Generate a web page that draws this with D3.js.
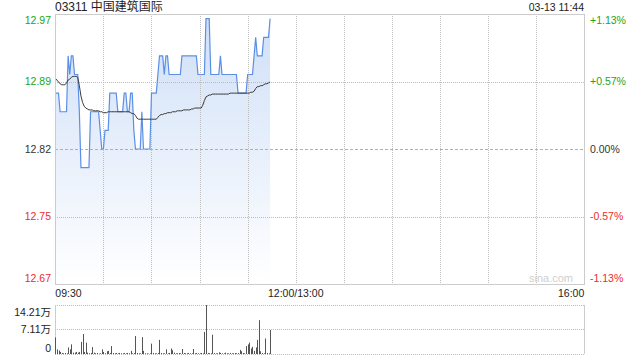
<!DOCTYPE html>
<html>
<head>
<meta charset="utf-8">
<script src="https://cdn.jsdelivr.net/npm/d3@7/dist/d3.min.js"></script>
<style>
  html, body { margin: 0; padding: 0; background: #fff; }
  svg { display: block; font-family: "Liberation Sans", Arial, "Noto Sans CJK SC", sans-serif; }
</style>
</head>
<body>
<svg id="chart" width="640" height="360"></svg>
<script>
// --- data (one value per minute from 09:30) ---
const title = '03311 中国建筑国际';
const stamp = '03-13 11:44';
const prevClose = 12.82;

const prices = [
  12.88, 12.88, 12.88, 12.86, 12.86, 12.86, 12.86, 12.86, 12.92, 12.90,
  12.92, 12.92, 12.90, 12.90, 12.90, 12.86, 12.80, 12.80, 12.80, 12.80,
  12.80, 12.80, 12.86, 12.86, 12.86, 12.86, 12.86, 12.86, 12.84, 12.82,
  12.82, 12.84, 12.84, 12.84, 12.88, 12.88, 12.88, 12.88, 12.88, 12.86,
  12.86, 12.86, 12.86, 12.88, 12.88, 12.86, 12.86, 12.88, 12.88, 12.84,
  12.82, 12.82, 12.82, 12.82, 12.86, 12.82, 12.82, 12.82, 12.82, 12.82,
  12.88, 12.88, 12.88, 12.88, 12.90, 12.92, 12.92, 12.92, 12.90, 12.92,
  12.92, 12.90, 12.90, 12.90, 12.90, 12.90, 12.90, 12.90, 12.90, 12.92,
  12.92, 12.92, 12.92, 12.92, 12.92, 12.92, 12.92, 12.92, 12.92, 12.90,
  12.90, 12.90, 12.90, 12.90, 12.96, 12.96, 12.96, 12.90, 12.90, 12.90,
  12.90, 12.90, 12.90, 12.92, 12.90, 12.90, 12.90, 12.90, 12.90, 12.90,
  12.90, 12.90, 12.90, 12.90, 12.88, 12.88, 12.88, 12.88, 12.88, 12.88,
  12.90, 12.90, 12.90, 12.90, 12.92, 12.94, 12.92, 12.92, 12.92, 12.92,
  12.94, 12.94, 12.94, 12.94, 12.96
];

const avgPrices = [
  12.896, 12.894, 12.892, 12.890, 12.889, 12.889, 12.889, 12.891, 12.894, 12.895,
  12.897, 12.898, 12.898, 12.898, 12.897, 12.888, 12.877, 12.870, 12.866, 12.864,
  12.863, 12.862, 12.862, 12.862, 12.861, 12.861, 12.861, 12.861, 12.860, 12.860,
  12.859, 12.859, 12.859, 12.860, 12.860, 12.860, 12.860, 12.860, 12.860, 12.860,
  12.860, 12.860, 12.860, 12.860, 12.860, 12.860, 12.860, 12.859, 12.858, 12.858,
  12.856, 12.853, 12.852, 12.852, 12.852, 12.852, 12.852, 12.852, 12.852, 12.852,
  12.852, 12.852, 12.852, 12.852, 12.854, 12.856, 12.857, 12.857, 12.858, 12.858,
  12.859, 12.859, 12.859, 12.860, 12.860, 12.860, 12.861, 12.861, 12.861, 12.861,
  12.862, 12.862, 12.862, 12.862, 12.862, 12.863, 12.863, 12.864, 12.864, 12.864,
  12.864, 12.864, 12.867, 12.872, 12.876, 12.877, 12.878, 12.878, 12.879, 12.879,
  12.879, 12.879, 12.879, 12.879, 12.879, 12.879, 12.879, 12.879, 12.879, 12.880,
  12.880, 12.880, 12.880, 12.880, 12.880, 12.880, 12.880, 12.880, 12.880, 12.880,
  12.880, 12.880, 12.881, 12.881, 12.882, 12.885, 12.887, 12.887, 12.888, 12.888,
  12.889, 12.890, 12.890, 12.891, 12.892
];

// volume in 万
const volumes = [
  4.8, 1.35, 1.0, 0.6, 0.3, 0.2, 0.3, 0.2, 1.9, 1.35,
  2.8, 0.4, 0.4, 0.6, 0.4, 0.6, 3.5, 5.8, 0.6, 3.3,
  0.4, 0.2, 0.3, 2.0, 0.4, 0.2, 0.3, 0.1, 0.2, 1.35,
  0.6, 0.2, 0.8, 0.9, 0.3, 2.3, 0.3, 0.2, 0.3, 0.2,
  0.3, 0.2, 0.2, 0.3, 0.2, 0.3, 0.2, 0.9, 0.2, 0.3,
  5.2, 0.3, 0.2, 0.2, 4.9, 0.9, 0.2, 0.2, 0.1, 0.2,
  3.0, 0.3, 0.2, 0.2, 0.3, 4.1, 0.3, 0.2, 0.2, 1.35,
  0.2, 0.3, 1.6, 1.1, 0.4, 0.2, 0.2, 0.3, 0.2, 1.45,
  0.3, 0.2, 0.2, 0.3, 0.2, 0.2, 1.45, 0.2, 0.3, 0.2,
  0.2, 0.3, 0.2, 6.4, 14.21, 0.3, 0.2, 0.2, 5.6, 0.3,
  0.2, 0.2, 0.5, 0.3, 0.2, 0.2, 0.4, 0.2, 0.2, 0.3,
  0.2, 0.2, 0.3, 0.2, 0.3, 1.2, 0.8, 0.3, 0.2, 2.3,
  2.8, 3.3, 1.6, 2.1, 0.9, 1.9, 4.1, 9.8, 0.8, 0.3,
  0.2, 4.5, 0.3, 0.2, 6.96
];

const priceTicks = [12.965, 12.8925, 12.82, 12.7475, 12.675];
const priceLabels = ['12.97', '12.89', '12.82', '12.75', '12.67'];
const pctLabels = ['+1.13%', '+0.57%', '0.00%', '-0.57%', '-1.13%'];
const timeTicks = [0, 150, 330];
const timeLabels = ['09:30', '12:00/13:00', '16:00'];
const volTicks = [14.21, 7.11, 0];
const volLabels = ['14.21万', '7.11万', '0'];

const totalMinutes = 330;

// --- layout ---
const plotLeft = 55, plotRight = 584;
const plotTop = 14, plotBottom = 284;
const volTop = 305, volBottom = 354;

const green = '#1ba51b', red = '#f02a2a', ink = '#333';
const labelColor = (i) => i < 2 ? green : (i > 2 ? red : ink);

const svg = d3.select('#chart');

const x = d3.scaleLinear().domain([0, totalMinutes]).range([plotLeft + 0.3, plotRight + 0.3]);
const y = d3.scaleLinear().domain([priceTicks[4], priceTicks[0]]).range([plotBottom, plotTop]);
const yv = d3.scaleLinear().domain([0, d3.max(volTicks)]).range([volBottom, volTop]);

const defs = svg.append('defs');
const grad = defs.append('linearGradient')
  .attr('id', 'fillGrad')
  .attr('gradientUnits', 'userSpaceOnUse')
  .attr('x1', 0).attr('y1', plotTop).attr('x2', 0).attr('y2', plotBottom);
grad.append('stop').attr('offset', '0%').attr('stop-color', '#cfdff7');
grad.append('stop').attr('offset', '100%').attr('stop-color', '#ffffff');

// price area (under the grid)
const area = d3.area()
  .x((d, i) => x(i))
  .y0(plotBottom)
  .y1(d => y(d));

const line = d3.line()
  .x((d, i) => x(i))
  .y(d => y(d));

svg.append('path')
  .datum(prices)
  .attr('d', area)
  .attr('fill', 'url(#fillGrad)');

// grid lines
const grid = svg.append('g');

grid.selectAll('line.vgrid')
  .data(d3.range(30, totalMinutes, 30))
  .enter()
  .append('line')
  .attr('x1', d => Math.round(x(d)) + 0.5)
  .attr('x2', d => Math.round(x(d)) + 0.5)
  .attr('y1', plotTop)
  .attr('y2', plotBottom)
  .attr('stroke', '#bdbdbd')
  .attr('stroke-width', 1)
  .attr('stroke-dasharray', '1,1');

grid.selectAll('line.hgrid')
  .data(priceTicks.slice(1, 4))
  .enter()
  .append('line')
  .attr('x1', plotLeft)
  .attr('x2', plotRight)
  .attr('y1', d => Math.round(y(d)) + 0.5)
  .attr('y2', d => Math.round(y(d)) + 0.5)
  .attr('stroke', (d, i) => i == 1 ? '#b0b0b0' : '#bdbdbd')
  .attr('stroke-width', 1)
  .attr('stroke-dasharray', (d, i) => i == 1 ? '3,2' : '1,1');

// price + average lines
svg.append('path')
  .datum(prices)
  .attr('d', line)
  .attr('fill', 'none')
  .attr('stroke', '#5b8fe6')
  .attr('stroke-width', 1.2);

svg.append('path')
  .datum(avgPrices)
  .attr('d', line)
  .attr('fill', 'none')
  .attr('stroke', '#3a3a3a')
  .attr('stroke-width', 1);

// frame
svg.append('rect')
  .attr('x', plotLeft + 0.5)
  .attr('y', plotTop + 0.5)
  .attr('width', plotRight - plotLeft)
  .attr('height', plotBottom - plotTop)
  .attr('fill', 'none')
  .attr('stroke', '#ccc');

// price labels, left and right
svg.append('g').selectAll('text')
  .data(priceTicks)
  .enter()
  .append('text')
  .attr('x', plotLeft - 4)
  .attr('y', (d, i) => y(d) + (i == 0 ? 6 : (i == 4 ? -6 : 0)))
  .attr('dy', '0.35em')
  .attr('text-anchor', 'end')
  .attr('font-size', 10.5)
  .attr('fill', (d, i) => labelColor(i))
  .text((d, i) => priceLabels[i]);

svg.append('g').selectAll('text')
  .data(priceTicks)
  .enter()
  .append('text')
  .attr('x', plotRight + 6)
  .attr('y', (d, i) => y(d) + (i == 0 ? 6 : (i == 4 ? -6 : 0)))
  .attr('dy', '0.35em')
  .attr('font-size', 10.5)
  .attr('fill', (d, i) => labelColor(i))
  .text((d, i) => pctLabels[i]);

// time labels
svg.append('g').selectAll('text')
  .data(timeTicks)
  .enter()
  .append('text')
  .attr('x', d => x(d))
  .attr('y', 297)
  .attr('text-anchor', (d, i) => i == 0 ? 'start' : (i == 2 ? 'end' : 'middle'))
  .attr('font-size', 10.5)
  .attr('fill', '#222')
  .text((d, i) => timeLabels[i]);

// title + time stamp
svg.append('text')
  .attr('x', plotLeft)
  .attr('y', 11)
  .attr('font-size', 12)
  .attr('fill', '#222')
  .text(title);

svg.append('text')
  .attr('x', plotRight)
  .attr('y', 11)
  .attr('text-anchor', 'end')
  .attr('font-size', 10.5)
  .attr('fill', '#222')
  .text(stamp);

svg.append('text')
  .attr('x', 573)
  .attr('y', 282)
  .attr('text-anchor', 'end')
  .attr('font-size', 11)
  .attr('fill', '#cfcfcf')
  .text('sina.com');

// --- volume panel ---
const vol = svg.append('g');

vol.selectAll('line.vh')
  .data(volTicks)
  .enter()
  .append('line')
  .attr('x1', plotLeft)
  .attr('x2', plotRight)
  .attr('y1', d => Math.round(yv(d)) + 0.5)
  .attr('y2', d => Math.round(yv(d)) + 0.5)
  .attr('stroke', '#bdbdbd')
  .attr('stroke-dasharray', '1,1');

vol.selectAll('line.vside')
  .data([plotLeft, plotRight])
  .enter()
  .append('line')
  .attr('x1', d => d + 0.5)
  .attr('x2', d => d + 0.5)
  .attr('y1', volTop)
  .attr('y2', volBottom)
  .attr('stroke', '#ccc');

vol.selectAll('line.bar')
  .data(volumes)
  .enter()
  .append('line')
  .attr('x1', (d, i) => Math.round(x(i)) + 0.5)
  .attr('x2', (d, i) => Math.round(x(i)) + 0.5)
  .attr('y1', yv(0))
  .attr('y2', d => yv(d))
  .attr('stroke', '#555');

svg.append('g').selectAll('text')
  .data(volTicks)
  .enter()
  .append('text')
  .attr('x', plotLeft - 4)
  .attr('y', (d, i) => yv(d) + (i == 0 ? 7 : (i == 2 ? -6 : 0)))
  .attr('dy', '0.35em')
  .attr('text-anchor', 'end')
  .attr('font-size', 10.5)
  .attr('fill', '#222')
  .text((d, i) => volLabels[i]);
</script>
</body>
</html>
